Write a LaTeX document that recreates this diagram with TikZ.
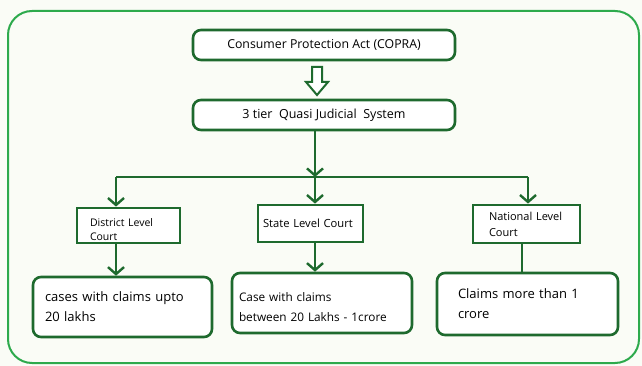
\documentclass[tikz,border=0pt]{standalone}
\usepackage{fontspec}
\setmainfont{Open Sans}
\usetikzlibrary{arrows.meta}
\definecolor{dg}{HTML}{1E6A2E}
\definecolor{bg}{HTML}{FAFCF6}
\definecolor{frame}{HTML}{2DAA4C}
\tikzset{
  ln/.style={draw=dg, line width=2.6pt},
  vtip/.style={ln, -{Straight Barb[length=7pt,width=16pt,line width=2.4pt]}},
  rbox/.style={draw=dg, line width=2.6pt, rounded corners=8pt, fill=white, inner sep=0pt},
  sbox/.style={draw=dg, line width=2.8pt, fill=white, inner sep=0pt},
}
\begin{document}
\begin{tikzpicture}[x=1pt,y=-1pt]
\fill[bg] (0,0) rectangle (642,366);
\useasboundingbox (0,0) rectangle (642,366);
\draw[frame, line width=2pt, rounded corners=24pt] (8,11) rectangle (639,363);
% top boxes
\node[rbox, minimum width=262pt, minimum height=30pt, font=\fontsize{12.3}{14}\selectfont] (copra) at (324,45) {Consumer Protection Act (COPRA)};
\node[rbox, minimum width=262pt, minimum height=30pt, font=\fontsize{12.5}{14}\selectfont] (tier) at (324,115) {3 tier\ \ Quasi Judicial\ \ System};
% hollow arrow
\draw[dg, line width=2pt, fill=white] (312,67) -- (322,67) -- (322,82) -- (328,82) -- (317,95) -- (306,82) -- (312,82) -- cycle;
% court boxes
\node[sbox, minimum width=103pt, minimum height=35pt, text width=77pt, align=left, text height=16.5pt, font=\fontsize{10.5}{14}\selectfont] (district) at (128.5,225.5) {District Level\\Court};
\node[sbox, minimum width=105pt, minimum height=37pt, text width=95pt, align=left, font=\fontsize{11.2}{12}\selectfont] (state) at (310.5,223.5) {State Level Court};
\node[sbox, minimum width=107pt, minimum height=38pt, text width=75pt, align=left, font=\fontsize{11}{16}\selectfont] (national) at (526.5,224) {National Level\\Court};
% claim boxes
\node[rbox, minimum width=179pt, minimum height=60pt, text width=155pt, align=left, font=\fontsize{13}{20}\selectfont] (c1) at (122.5,307) {cases with claims upto\\20 lakhs};
\node[rbox, minimum width=180pt, minimum height=60pt, text width=166pt, align=left, text height=17pt, font=\fontsize{11.8}{20}\selectfont] (c2) at (322,303) {Case with claims\\between 20 Lakhs - 1crore};
\node[rbox, minimum width=181pt, minimum height=62pt, text width=139pt, align=left, font=\fontsize{13}{20}\selectfont] (c3) at (527.5,304) {Claims more than 1\\crore};
% junctions
\coordinate (j) at (315,177);
\coordinate (jl) at (116,177);
\coordinate (jr) at (528,177);
\coordinate (xn) at (522,250);
\draw[vtip] (tier.south -| j) -- (j);
\draw[ln] (jl) -- (jr);
\draw[vtip] (j) -- (j |- state.north);
\draw[vtip] (jl) -- (jl |- district.north);
\draw[vtip] (jr) -- (jr |- national.north);
\draw[vtip] (jl |- district.south) -- (jl |- c1.north);
\draw[vtip] (j |- state.south) -- (j |- c2.north);
\draw[ln] (xn |- national.south) -- (xn |- c3.north);
\end{tikzpicture}
\end{document}
